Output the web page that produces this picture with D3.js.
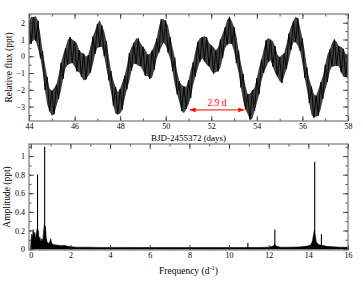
<!DOCTYPE html>
<html>
<head>
<meta charset="utf-8">
<script src="https://cdn.jsdelivr.net/npm/d3@7"></script>
<style>
  body { margin: 0; background: #fff; }
  text { font-family: "Liberation Serif", "Times New Roman", serif; }
</style>
</head>
<body>
<div id="chart"></div>
<script>
////////////////////////////  Data  ////////////////////////////
// light curve: band centre and half width of the fast pulsation, every 0.1 d from 44.0
const lcStart = 44;
const lcStep = 0.1;
const fluxMid = [
  1.40, 1.55, 1.68, 1.65, 1.27, 0.58, -0.32, -1.25, -2.06, -2.60,
  -2.80, -2.68, -2.34, -1.83, -1.23, -0.62, -0.11, 0.23, 0.35, 0.30,
  0.15, -0.06, -0.29, -0.50, -0.65, -0.70, -0.56, -0.19, 0.33, 0.84,
  1.21, 1.35, 1.19, 0.74, 0.07, -0.73, -1.52, -2.19, -2.64, -2.80,
  -2.68, -2.35, -1.84, -1.25, -0.66, -0.15, 0.18, 0.30, 0.24, 0.08,
  -0.15, -0.38, -0.54, -0.60, -0.46, -0.08, 0.45, 0.98, 1.36, 1.50,
  1.38, 1.02, 0.48, -0.19, -0.91, -1.58, -2.12, -2.48, -2.60, -2.48,
  -2.15, -1.64, -1.05, -0.46, 0.05, 0.38, 0.50, 0.45, 0.30, 0.10,
  -0.10, -0.25, -0.30, -0.18, 0.16, 0.63, 1.09, 1.43, 1.55, 1.41,
  1.02, 0.41, -0.33, -1.12, -1.86, -2.47, -2.86, -3.00, -2.88, -2.56,
  -2.04, -1.46, -0.84, -0.29, 0.13, 0.37, 0.37, 0.15, -0.20, -0.55,
  -0.77, -0.76, -0.50, -0.03, 0.54, 1.08, 1.46, 1.60, 1.44, 1.00,
  0.30, -0.49, -1.33, -2.07, -2.64, -2.96, -2.97, -2.76, -2.36, -1.84,
  -1.25, -0.71, -0.24, 0.09, 0.20, 0.15, 0.00, -0.20, -0.40, -0.55,
  -0.60
];
const fluxHalf = [
  0.72, 0.80, 0.66, 0.74, 0.84, 0.70, 0.62, 0.76, 0.82, 0.68,
  0.74, 0.78, 0.64, 0.70, 0.82, 0.72, 0.60, 0.74, 0.80, 0.70,
  0.76, 0.84, 0.66, 0.72, 0.80, 0.68, 0.62, 0.78, 0.84, 0.70,
  0.72, 0.80, 0.64, 0.74, 0.82, 0.70, 0.64, 0.76, 0.80, 0.66,
  0.74, 0.82, 0.68, 0.72, 0.84, 0.70, 0.62, 0.76, 0.82, 0.68,
  0.72, 0.78, 0.64, 0.74, 0.80, 0.72, 0.60, 0.76, 0.84, 0.70,
  0.74, 0.80, 0.66, 0.70, 0.82, 0.68, 0.62, 0.78, 0.80, 0.66,
  0.72, 0.84, 0.68, 0.74, 0.80, 0.70, 0.64, 0.76, 0.82, 0.70,
  0.76, 0.80, 0.64, 0.72, 0.84, 0.72, 0.62, 0.74, 0.80, 0.68,
  0.72, 0.82, 0.66, 0.74, 0.80, 0.70, 0.60, 0.78, 0.84, 0.70,
  0.74, 0.80, 0.64, 0.70, 0.82, 0.72, 0.62, 0.76, 0.80, 0.66,
  0.72, 0.84, 0.68, 0.74, 0.80, 0.70, 0.64, 0.76, 0.82, 0.68,
  0.76, 0.80, 0.66, 0.72, 0.84, 0.70, 0.62, 0.78, 0.80, 0.70,
  0.74, 0.82, 0.64, 0.70, 0.80, 0.72, 0.60, 0.76, 0.84, 0.68,
  0.72
];

// amplitude spectrum: noise envelope + resolved peaks
const specFreq = [
  0, 0.04, 0.08, 0.12, 0.16, 0.2, 0.24, 0.28, 0.32, 0.38,
  0.42, 0.46, 0.5, 0.55, 0.6, 0.64, 0.68, 0.74, 0.78, 0.82,
  0.88, 0.94, 1.0, 1.06, 1.15, 1.25, 1.4, 1.55, 1.7, 1.85,
  2.0, 2.3, 2.8, 3.5, 4.5, 5.5, 6.5, 7.5, 8.5, 9.5,
  10.5, 11.5, 12.0, 12.2, 12.3, 12.4, 12.6, 13.0, 13.5, 13.9,
  14.1, 14.2, 14.3, 14.4, 14.5, 14.7, 14.9, 15.2, 15.6, 16.0
];
const specNoise = [
  0.04, 0.16, 0.12, 0.21, 0.15, 0.18, 0.10, 0.17, 0.22, 0.20,
  0.10, 0.13, 0.08, 0.11, 0.09, 0.17, 0.26, 0.24, 0.12, 0.08,
  0.06, 0.07, 0.10, 0.06, 0.05, 0.045, 0.04, 0.035, 0.04, 0.03,
  0.025, 0.02, 0.02, 0.018, 0.018, 0.017, 0.017, 0.016, 0.016, 0.016,
  0.016, 0.017, 0.02, 0.03, 0.05, 0.03, 0.02, 0.02, 0.022, 0.03,
  0.04, 0.08, 0.20, 0.08, 0.05, 0.04, 0.03, 0.025, 0.02, 0.02
];
const peakFreq = [0.34, 0.70, 1.0, 10.95, 12.31, 14.32, 14.66];
const peakAmp = [0.80, 1.10, 0.11, 0.065, 0.21, 0.94, 0.16];

// ticks
const dayTicks = [44, 46, 48, 50, 52, 54, 56, 58];
const fluxTicks = [-3, -2, -1, 0, 1, 2];
const freqTicks = [0, 2, 4, 6, 8, 10, 12, 14, 16];
const ampTicks = [0, 0.2, 0.4, 0.6, 0.8, 1];

// period annotation
const periodLabel = "2.9 d";
const periodFrom = 51.05, periodTo = 53.45, periodLevel = -3.2;

////////////////////////////  Init  ////////////////////////////
const width = 363, height = 281;
const svg = d3.select("#chart").append("svg")
  .attr("width", width).attr("height", height);

const xTime = d3.scaleLinear().domain([44, 58]).range([29, 348]);
const yFlux = d3.scaleLinear().domain([-3.86, 2.52]).range([121, 14]);
const xFreq = d3.scaleLinear().domain([-0.09, 16]).range([29, 348]);
const yAmp = d3.scaleLinear().domain([-0.01, 1.13]).range([250, 144]);

svg.append("defs").selectAll("clipPath")
  .data([["clipTop", xTime, yFlux], ["clipBot", xFreq, yAmp]])
  .enter().append("clipPath").attr("id", d => d[0])
  .append("rect")
  .attr("x", d => d[1].range()[0]).attr("y", d => d[2].range()[1])
  .attr("width", d => d[1].range()[1] - d[1].range()[0])
  .attr("height", d => d[2].range()[0] - d[2].range()[1]);

// axes with inward, mirrored major & minor ticks
function drawFrame(x, y, xMajor, yMajor, xMinorStep, yMinorStep, yFmt) {
  const [x0, x1] = x.range();
  const [y1, y0] = y.range();
  const xd = x.domain(), yd = y.domain();
  const xMinor = d3.range(Math.ceil(xd[0] / xMinorStep) * xMinorStep, xd[1] + 1e-9, xMinorStep);
  const yMinor = d3.range(Math.ceil(yd[0] / yMinorStep) * yMinorStep, yd[1] + 1e-9, yMinorStep);
  const g = svg.append("g").attr("class", "frame");

  const sides = [
    [d3.axisBottom(x), `translate(0,${y1})`, xMajor, xMinor, true, d3.format("d"), 2],
    [d3.axisTop(x), `translate(0,${y0})`, xMajor, xMinor, false],
    [d3.axisLeft(y), `translate(${x0},0)`, yMajor, yMinor, true, yFmt, 4],
    [d3.axisRight(y), `translate(${x1},0)`, yMajor, yMinor, false]
  ];
  sides.forEach(([axis, tr, major, minor, labels, fmt, pad]) => {
    g.append("g").attr("transform", tr)
      .call(axis.tickValues(minor).tickSize(-2.5).tickFormat(""))
      .call(s => s.select(".domain").remove());
    const ga = g.append("g").attr("transform", tr)
      .call(axis.tickValues(major).tickSize(-5).tickPadding(labels ? pad : 0)
        .tickFormat(labels ? fmt : ""))
      .call(s => s.select(".domain").remove());
    ga.selectAll("text").attr("font-size", 8).attr("fill", "#000")
      .style("font-family", '"Liberation Serif", serif');
  });
  g.selectAll("line").attr("stroke", "#222").attr("stroke-width", 0.8);

  g.append("rect")
    .attr("x", x0).attr("y", y0).attr("width", x1 - x0).attr("height", y1 - y0)
    .attr("fill", "none").attr("stroke", "#777").attr("stroke-width", 1.2);
}

////////////////////////////  Light curve  ////////////////////////////
const lc = fluxMid.map((m, i) => ({
  t: lcStart + i * lcStep,
  hi: m + fluxHalf[i],
  lo: m - fluxHalf[i],
  zig: i % 2 === 0 ? m + fluxHalf[i] : m - fluxHalf[i]
}));

const gTop = svg.append("g").attr("clip-path", "url(#clipTop)");
gTop.append("path").datum(lc)
  .attr("d", d3.area().x(d => xTime(d.t)).y0(d => yFlux(d.lo)).y1(d => yFlux(d.hi)))
  .attr("fill", "#404040");
gTop.append("path").datum(lc)
  .attr("d", d3.line().x(d => xTime(d.t)).y(d => yFlux(d.zig)))
  .attr("fill", "none").attr("stroke", "#000").attr("stroke-width", 0.9);

// 2.9 d arrow
const defs = svg.select("defs");
["arrEnd", "arrStart"].forEach((id, k) => {
  defs.append("marker").attr("id", id)
    .attr("viewBox", "0 0 10 10").attr("refX", 10).attr("refY", 5)
    .attr("markerWidth", 6).attr("markerHeight", 6)
    .attr("orient", k === 0 ? "auto" : "auto-start-reverse")
    .append("path").attr("d", "M0,1 L10,5 L0,9 Z").attr("fill", "#f00");
});
svg.append("line")
  .attr("x1", xTime(periodFrom)).attr("x2", xTime(periodTo))
  .attr("y1", yFlux(periodLevel)).attr("y2", yFlux(periodLevel))
  .attr("stroke", "#f00").attr("stroke-width", 1)
  .attr("marker-end", "url(#arrEnd)").attr("marker-start", "url(#arrStart)");
svg.append("text")
  .attr("x", xTime((periodFrom + periodTo) / 2)).attr("y", yFlux(periodLevel) - 4)
  .attr("text-anchor", "middle").attr("font-size", 9.5).attr("fill", "#f00")
  .text(periodLabel);

drawFrame(xTime, yFlux, dayTicks, fluxTicks, 1, 0.5, d3.format("d"));

svg.append("text")
  .attr("x", (xTime.range()[0] + xTime.range()[1]) / 2).attr("y", 140.5)
  .attr("text-anchor", "middle").attr("font-size", 9)
  .text("BJD-2455372 (days)");
svg.append("text")
  .attr("transform", `translate(12,${(yFlux.range()[0] + yFlux.range()[1]) / 2}) rotate(-90)`)
  .attr("text-anchor", "middle").attr("font-size", 9.5)
  .text("Relative flux (ppt)");

////////////////////////////  Amplitude spectrum  ////////////////////////////
const noise = specFreq.map((f, i) => ({ f, a: specNoise[i] }));
const peaks = peakFreq.map((f, i) => ({ f, a: peakAmp[i] }));

const gBot = svg.append("g").attr("clip-path", "url(#clipBot)");
gBot.append("path").datum(noise)
  .attr("d", d3.area().x(d => xFreq(d.f)).y0(yAmp(0)).y1(d => yAmp(d.a)))
  .attr("fill", "#000").attr("stroke", "#000").attr("stroke-width", 0.6);
gBot.selectAll(".peak").data(peaks).enter().append("line")
  .attr("class", "peak")
  .attr("x1", d => xFreq(d.f)).attr("x2", d => xFreq(d.f))
  .attr("y1", yAmp(0)).attr("y2", d => yAmp(d.a))
  .attr("stroke", "#000").attr("stroke-width", 1.1);

drawFrame(xFreq, yAmp, freqTicks, ampTicks, 1, 0.1, d => (d === 0 ? "0" : d3.format(".1~f")(d)));

const freqLabel = svg.append("text")
  .attr("x", (xFreq.range()[0] + xFreq.range()[1]) / 2).attr("y", 274)
  .attr("text-anchor", "middle").attr("font-size", 9.5);
freqLabel.append("tspan").text("Frequency (d");
freqLabel.append("tspan").attr("font-size", 6.5).attr("dy", -4).text("-1");
freqLabel.append("tspan").attr("dy", 4).text(")");
svg.append("text")
  .attr("transform", `translate(10,${(yAmp.range()[0] + yAmp.range()[1]) / 2}) rotate(-90)`)
  .attr("text-anchor", "middle").attr("font-size", 9.5)
  .text("Amplitude (ppt)");
</script>
</body>
</html>
